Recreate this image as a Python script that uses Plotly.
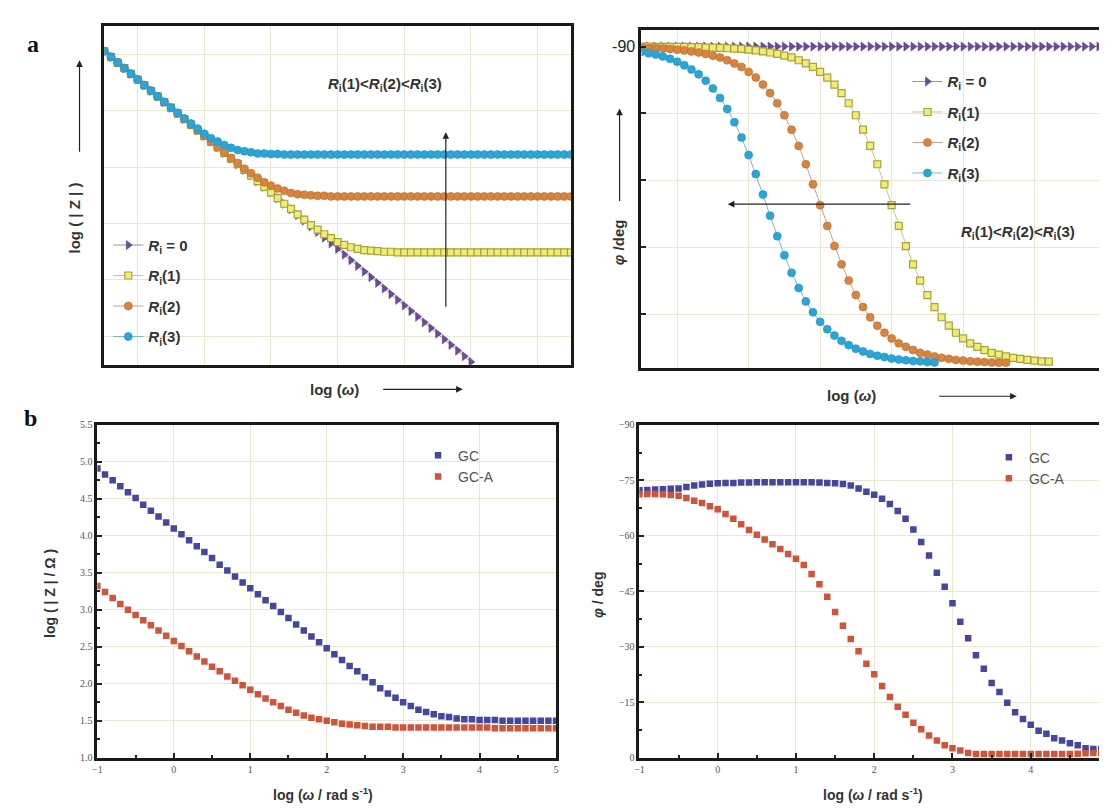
import plotly.graph_objects as go

W, H = 1107, 808

# ---------------- data ----------------
# panel a (schematic): log(w) positions, one point every 0.1 unit
X_SCHEME = [-0.5, -0.4, -0.3, -0.2, -0.1, 0.0, 0.1, 0.2, 0.3, 0.4,
            0.5, 0.6, 0.7, 0.8, 0.9, 1.0, 1.1, 1.2, 1.3, 1.4,
            1.5, 1.6, 1.7, 1.8, 1.9, 2.0, 2.1, 2.2, 2.3, 2.4,
            2.5, 2.6, 2.7, 2.8, 2.9, 3.0, 3.1, 3.2, 3.3, 3.4,
            3.5, 3.6, 3.7, 3.8, 3.9, 4.0, 4.1, 4.2, 4.3, 4.4,
            4.5, 4.6, 4.7, 4.8, 4.9, 5.0, 5.1, 5.2, 5.3, 5.4,
            5.5, 5.6, 5.7, 5.8, 5.9, 6.0, 6.1, 6.2, 6.3, 6.4, 6.5]

# log|Z| (arbitrary units)
MOD_R0 = [5.05, 4.95, 4.85, 4.75, 4.65, 4.55, 4.45, 4.35, 4.25, 4.15,
          4.05, 3.95, 3.85, 3.75, 3.65, 3.55, 3.45, 3.35, 3.25, 3.15,
          3.05, 2.95, 2.85, 2.75, 2.65, 2.55, 2.45, 2.35, 2.25, 2.15,
          2.05, 1.95, 1.85, 1.75, 1.65, 1.55, 1.45, 1.35, 1.25, 1.15,
          1.05, 0.95, 0.85, 0.75, 0.65, 0.55, 0.45, 0.35, 0.25, 0.15,
          0.05, -0.05, -0.15, -0.25, -0.35, -0.45]
MOD_R1 = [5.05, 4.95, 4.85, 4.75, 4.65, 4.55, 4.45, 4.35, 4.25, 4.15,
          4.05, 3.95, 3.85, 3.75, 3.65, 3.55, 3.45, 3.35, 3.25, 3.15,
          3.05, 2.95, 2.85, 2.75, 2.65, 2.55, 2.45, 2.35, 2.26, 2.16,
          2.07, 1.97, 1.89, 1.81, 1.74, 1.67, 1.62, 1.58, 1.55, 1.53,
          1.52, 1.51, 1.50, 1.50, 1.49, 1.49, 1.49, 1.49, 1.49, 1.49,
          1.49, 1.49, 1.49, 1.49, 1.49, 1.49, 1.49, 1.49, 1.49, 1.49,
          1.49, 1.49, 1.49, 1.49, 1.49, 1.49, 1.49, 1.49, 1.49, 1.49, 1.49]
MOD_R2 = [5.05, 4.95, 4.85, 4.75, 4.65, 4.55, 4.45, 4.35, 4.25, 4.15,
          4.05, 3.95, 3.85, 3.75, 3.65, 3.55, 3.45, 3.35, 3.26, 3.16,
          3.07, 2.97, 2.89, 2.81, 2.73, 2.67, 2.62, 2.58, 2.54, 2.52,
          2.51, 2.50, 2.49, 2.49, 2.48, 2.48, 2.48, 2.48, 2.48, 2.48,
          2.48, 2.48, 2.48, 2.48, 2.48, 2.48, 2.48, 2.48, 2.48, 2.48,
          2.48, 2.48, 2.48, 2.48, 2.48, 2.48, 2.48, 2.48, 2.48, 2.48,
          2.48, 2.48, 2.48, 2.48, 2.48, 2.48, 2.48, 2.48, 2.48, 2.48, 2.48]
MOD_R3 = [5.05, 4.95, 4.85, 4.75, 4.65, 4.55, 4.45, 4.35, 4.25, 4.15,
          4.05, 3.96, 3.86, 3.77, 3.68, 3.59, 3.51, 3.45, 3.39, 3.34,
          3.30, 3.28, 3.26, 3.24, 3.24, 3.23, 3.23, 3.22, 3.22, 3.22,
          3.22, 3.22, 3.22, 3.22, 3.22, 3.22, 3.22, 3.22, 3.22, 3.22,
          3.22, 3.22, 3.22, 3.22, 3.22, 3.22, 3.22, 3.22, 3.22, 3.22,
          3.22, 3.22, 3.22, 3.22, 3.22, 3.22, 3.22, 3.22, 3.22, 3.22,
          3.22, 3.22, 3.22, 3.22, 3.22, 3.22, 3.22, 3.22, 3.22, 3.22, 3.22]

# phase (deg)
PH_R0 = [-90.0, -90.0, -90.0, -90.0, -90.0, -90.0, -90.0, -90.0, -90.0, -90.0,
         -90.0, -90.0, -90.0, -90.0, -90.0, -90.0, -90.0, -90.0, -90.0, -90.0,
         -90.0, -90.0, -90.0, -90.0, -90.0, -90.0, -90.0, -90.0, -90.0, -90.0,
         -90.0, -90.0, -90.0, -90.0, -90.0, -90.0, -90.0, -90.0, -90.0, -90.0,
         -90.0, -90.0, -90.0, -90.0, -90.0, -90.0, -90.0, -90.0, -90.0, -90.0,
         -90.0, -90.0, -90.0, -90.0, -90.0, -90.0, -90.0, -90.0, -90.0, -90.0,
         -90.0, -90.0, -90.0, -90.0, -90.0, -90.0]
PH_R1 = [-90.0, -90.0, -89.9, -89.9, -89.9, -89.9, -89.9, -89.8, -89.8, -89.7,
         -89.7, -89.6, -89.5, -89.4, -89.3, -89.1, -88.9, -88.6, -88.3, -87.9,
         -87.4, -86.9, -86.1, -85.2, -84.2, -82.8, -81.2, -79.2, -76.8, -73.9,
         -70.5, -66.4, -61.8, -56.6, -50.9, -45.0, -39.1, -33.4, -28.2, -23.6,
         -19.5, -16.1, -13.2, -10.8, -8.8, -7.2, -5.8, -4.8, -3.9, -3.1,
         -2.6, -2.1, -1.7, -1.4, -1.1, -0.9, -0.7, -0.6]
PH_R2 = [-89.7, -89.6, -89.5, -89.4, -89.3, -89.1, -88.9, -88.6, -88.3, -87.9,
         -87.4, -86.9, -86.1, -85.2, -84.2, -82.8, -81.2, -79.2, -76.8, -73.9,
         -70.5, -66.4, -61.8, -56.6, -50.9, -45.0, -39.1, -33.4, -28.2, -23.6,
         -19.5, -16.1, -13.2, -10.8, -8.8, -7.2, -5.8, -4.8, -3.9, -3.1,
         -2.6, -2.1, -1.7, -1.4, -1.1, -0.9, -0.7, -0.6, -0.5, -0.4,
         -0.3, -0.3]
PH_R3 = [-88.5, -88.1, -87.7, -87.2, -86.5, -85.7, -84.7, -83.5, -82.1, -80.3,
         -78.1, -75.4, -72.3, -68.5, -64.2, -59.2, -53.8, -48.0, -42.0, -36.2,
         -30.8, -25.8, -21.5, -17.7, -14.6, -11.9, -9.8, -8.0, -6.5, -5.3,
         -4.3, -3.5, -2.8, -2.3, -1.9, -1.5, -1.2, -1.0, -0.8, -0.7,
         -0.5, -0.4]

# panel b (measured): log(w / rad s-1)
LOG_W = [-1.0, -0.9, -0.8, -0.7, -0.6, -0.5, -0.4, -0.3, -0.2, -0.1,
         0.0, 0.1, 0.2, 0.3, 0.4, 0.5, 0.6, 0.7, 0.8, 0.9,
         1.0, 1.1, 1.2, 1.3, 1.4, 1.5, 1.6, 1.7, 1.8, 1.9,
         2.0, 2.1, 2.2, 2.3, 2.4, 2.5, 2.6, 2.7, 2.8, 2.9,
         3.0, 3.1, 3.2, 3.3, 3.4, 3.5, 3.6, 3.7, 3.8, 3.9,
         4.0, 4.1, 4.2, 4.3, 4.4, 4.5, 4.6, 4.7, 4.8, 4.9, 5.0]
LOGZ_GC = [4.91, 4.83, 4.75, 4.67, 4.59, 4.51, 4.42, 4.34, 4.26, 4.18,
           4.10, 4.02, 3.94, 3.86, 3.78, 3.70, 3.61, 3.53, 3.45, 3.37,
           3.29, 3.21, 3.13, 3.05, 2.97, 2.89, 2.80, 2.72, 2.64, 2.56,
           2.48, 2.40, 2.32, 2.24, 2.17, 2.09, 2.02, 1.94, 1.87, 1.81,
           1.75, 1.70, 1.65, 1.62, 1.59, 1.56, 1.55, 1.53, 1.52, 1.52,
           1.51, 1.51, 1.51, 1.50, 1.50, 1.50, 1.50, 1.50, 1.50, 1.50, 1.50]
LOGZ_GCA = [3.32, 3.24, 3.16, 3.08, 3.00, 2.93, 2.86, 2.79, 2.72, 2.65,
            2.58, 2.51, 2.44, 2.37, 2.30, 2.23, 2.17, 2.10, 2.04, 1.98,
            1.92, 1.86, 1.80, 1.75, 1.70, 1.65, 1.61, 1.57, 1.54, 1.52,
            1.50, 1.48, 1.46, 1.45, 1.44, 1.43, 1.42, 1.42, 1.42, 1.41,
            1.41, 1.41, 1.41, 1.41, 1.41, 1.41, 1.41, 1.41, 1.41, 1.41,
            1.41, 1.41, 1.40, 1.40, 1.40, 1.40, 1.40, 1.40, 1.40, 1.40, 1.40]
PHASE_GC = [-72.3, -72.4, -72.5, -72.6, -72.7, -72.8, -73.2, -73.6, -73.9, -74.1,
            -74.2, -74.3, -74.3, -74.4, -74.4, -74.5, -74.5, -74.5, -74.5, -74.5,
            -74.5, -74.5, -74.5, -74.4, -74.3, -74.2, -74.0, -73.6, -72.8, -71.9,
            -71.1, -70.0, -68.6, -66.7, -64.6, -61.7, -58.3, -54.7, -50.0, -46.2,
            -41.8, -36.8, -32.3, -27.7, -24.1, -20.2, -17.8, -14.9, -12.3, -10.5,
            -8.9, -7.3, -6.5, -5.3, -4.7, -3.9, -3.4, -2.6, -2.4, -2.4, -2.4]
PHASE_GCA = [-71.2, -71.3, -71.3, -71.2, -71.0, -70.8, -70.2, -69.5, -68.9, -68.0,
             -67.2, -65.9, -64.6, -63.1, -61.6, -60.3, -59.0, -57.7, -56.4, -55.1,
             -53.8, -52.1, -49.7, -46.9, -43.5, -39.4, -35.7, -32.1, -28.8, -25.4,
             -22.6, -19.4, -16.4, -13.8, -11.6, -9.5, -7.7, -6.0, -4.7, -3.4,
             -2.6, -2.0, -1.3, -1.0, -1.0, -1.0, -1.0, -1.0, -1.0, -1.0,
             -1.0, -1.0, -1.0, -1.0, -1.0, -1.0, -1.1, -1.2, -1.3, -1.3, -1.3]

SCHEME_NAMES = ["<b><i>R</i><sub>i</sub> = 0</b>", "<b><i>R</i><sub>i</sub>(1)</b>",
                "<b><i>R</i><sub>i</sub>(2)</b>", "<b><i>R</i><sub>i</sub>(3)</b>"]
RATIO_TEXT = ("<b><i>R</i><sub>i</sub>(1)&lt;<i>R</i><sub>i</sub>(2)"
              "&lt;<i>R</i><sub>i</sub>(3)</b>")

SANS = "Liberation Sans"


def px_x(x):
    return x / W


def px_y(y):
    return 1 - y / H


# marker styles for the four schematic curves
STYLES = [
    dict(symbol="triangle-right", size=8, color="#6d4b96", line=dict(color="#5a3c80", width=0.5)),
    dict(symbol="square", size=7, color="#efec78", line=dict(color="#a9a23a", width=1.2)),
    dict(symbol="circle", size=8, color="#d6843f", line=dict(color="#b96d2f", width=0.6)),
    dict(symbol="circle", size=8, color="#2ba5d6", line=dict(color="#2192c2", width=0.6)),
]
LINE_COLORS = ["#9a8ab2", "#c9c58c", "#c9a283", "#80b4cc"]

fig = go.Figure()

mod_series = [MOD_R0, MOD_R1, MOD_R2, MOD_R3]
for i, ys in enumerate(mod_series):
    fig.add_trace(go.Scatter(x=X_SCHEME[:len(ys)], y=ys, mode="lines+markers",
                             name=SCHEME_NAMES[i], marker=STYLES[i],
                             line=dict(color=LINE_COLORS[i], width=1),
                             xaxis="x", yaxis="y", legend="legend",
                             legendgroup="a%d" % i))

ph_series = [PH_R0, PH_R1, PH_R2, PH_R3]
for i, ys in enumerate(ph_series):
    fig.add_trace(go.Scatter(x=X_SCHEME[:len(ys)], y=ys, mode="lines+markers",
                             name=SCHEME_NAMES[i], marker=STYLES[i],
                             line=dict(color=LINE_COLORS[i], width=1),
                             xaxis="x2", yaxis="y2", legend="legend2",
                             legendgroup="b%d" % i))

GC_COLOR = "#45469f"
GCA_COLOR = "#d1533a"
fig.add_trace(go.Scatter(x=LOG_W, y=LOGZ_GC, mode="markers", name="GC",
                         marker=dict(symbol="square", size=6.5, color=GC_COLOR),
                         xaxis="x3", yaxis="y3", legend="legend3"))
fig.add_trace(go.Scatter(x=LOG_W, y=LOGZ_GCA, mode="markers", name="GC-A",
                         marker=dict(symbol="square", size=6.5, color=GCA_COLOR),
                         xaxis="x3", yaxis="y3", legend="legend3"))
fig.add_trace(go.Scatter(x=LOG_W, y=PHASE_GC, mode="markers", name="GC",
                         marker=dict(symbol="square", size=6.5, color=GC_COLOR),
                         xaxis="x4", yaxis="y4", legend="legend4"))
fig.add_trace(go.Scatter(x=LOG_W, y=PHASE_GCA, mode="markers", name="GC-A",
                         marker=dict(symbol="square", size=6.5, color=GCA_COLOR),
                         xaxis="x4", yaxis="y4", legend="legend4"))

GRID = "#ece6d2"
frame = dict(showline=True, mirror=True, linecolor="#1a1a1a", linewidth=3,
             zeroline=False, showgrid=True, gridcolor=GRID, gridwidth=1)
small_font = dict(family="Liberation Serif", size=10, color="#555")
minor_ticks = dict(ticks="inside", ticklen=3, tickcolor="#222", tickwidth=1.5, showgrid=False)

fig.update_layout(
    width=W, height=H, margin=dict(l=0, r=0, t=0, b=0),
    paper_bgcolor="white", plot_bgcolor="white",
    xaxis=dict(frame, domain=[px_x(92), px_x(562)], range=[-0.5, 6.5], dtick=1, tick0=0,
               showticklabels=False, anchor="y"),
    yaxis=dict(frame, domain=[px_y(356), px_y(12)], range=[-0.5, 5.5], dtick=1, tick0=0,
               showticklabels=False, anchor="x"),
    xaxis2=dict(frame, domain=[px_x(633), px_x(1101)], range=[-0.5, 6.0], dtick=1, tick0=0,
                showticklabels=False, anchor="y2"),
    yaxis2=dict(frame, domain=[px_y(359), px_y(16)], range=[1.1, -94.75],
                tickvals=[-90, -71, -52, -33, -14], ticktext=["-90", "", "", "", ""],
                ticks="inside", ticklen=5, tickwidth=1.5, tickcolor="#222",
                tickfont=dict(family=SANS, size=16, color="#222"), anchor="x2"),
    xaxis3=dict(frame, domain=[px_x(85), px_x(547)], range=[-1, 5], dtick=1, tick0=0,
                ticks="inside", ticklen=5, tickwidth=2, tickcolor="#222",
                minor=dict(minor_ticks, dtick=0.5), tickfont=small_font, anchor="y3"),
    yaxis3=dict(frame, domain=[px_y(755), px_y(417)], range=[1.0, 5.5], dtick=0.5, tick0=0,
                ticks="inside", ticklen=5, tickwidth=2, tickcolor="#222", tickformat=".1f",
                minor=dict(minor_ticks, dtick=0.25), tickfont=small_font, anchor="x3"),
    xaxis4=dict(frame, domain=[px_x(631), px_x(1104)], range=[-1, 5], dtick=1, tick0=0,
                ticks="inside", ticklen=5, tickwidth=2, tickcolor="#222",
                minor=dict(minor_ticks, dtick=0.5), tickfont=small_font, anchor="y4"),
    yaxis4=dict(frame, domain=[px_y(755), px_y(417)], range=[0, -90], dtick=15, tick0=0,
                ticks="inside", ticklen=5, tickwidth=2, tickcolor="#222",
                minor=dict(minor_ticks, dtick=7.5), tickfont=small_font, anchor="x4"),
)

legend_base = dict(xanchor="left", yanchor="top", bgcolor="rgba(0,0,0,0)",
                   traceorder="grouped", tracegroupgap=8,
                   font=dict(family=SANS, size=15, color="#333"))
fig.update_layout(
    legend=dict(legend_base, x=px_x(96), y=px_y(218)),
    legend2=dict(legend_base, x=px_x(901), y=px_y(52)),
    legend3=dict(xanchor="left", yanchor="top", bgcolor="rgba(0,0,0,0)",
                 x=px_x(408), y=px_y(432), font=dict(family=SANS, size=14, color="#555")),
    legend4=dict(xanchor="left", yanchor="top", bgcolor="rgba(0,0,0,0)",
                 x=px_x(983), y=px_y(434), font=dict(family=SANS, size=14, color="#555")),
)


def text(x, y, s, size=15, angle=0, family=SANS, color="#333"):
    return dict(x=px_x(x), y=px_y(y), xref="paper", yref="paper", text=s,
                showarrow=False, textangle=angle, xanchor="center", yanchor="middle",
                font=dict(family=family, size=size, color=color))


def arrow(x0, y0, x1, y1):
    # tail (x0, y0) -> head (x1, y1), page pixels
    return dict(x=px_x(x1), y=px_y(y1), xref="paper", yref="paper",
                ax=x0 - x1, ay=y0 - y1, axref="pixel", ayref="pixel", text="",
                showarrow=True, arrowhead=2, arrowsize=1.1, arrowwidth=1.2,
                arrowcolor="#222", standoff=0, startstandoff=0)


annotations = [
    text(20, 30, "<b>a</b>", size=24, family="Liberation Serif", color="#111"),
    text(18, 410, "<b>b</b>", size=24, family="Liberation Serif", color="#111"),
    # panel a, left
    text(62, 207, "<b>log ( | Z | )</b>", angle=-90),
    arrow(67, 140, 67, 47),
    text(324, 381, "<b>log (<i>ω</i>)</b>"),
    arrow(372, 381, 453, 381),
    text(375, 72, RATIO_TEXT, size=15),
    arrow(436, 296, 436, 120),
    # panel a, right
    text(610, 232, "<b><i>φ</i> /deg</b>", angle=-90),
    arrow(611, 190, 611, 96),
    text(845, 387, "<b>log (<i>ω</i>)</b>"),
    arrow(932, 388, 1011, 388),
    text(1012, 222, RATIO_TEXT, size=15),
    arrow(904, 193, 720, 193),
    # panel b
    text(38, 588, "<b>log ( | Z | / Ω )</b>", size=14, angle=-90),
    text(312, 792, "<b>log (<i>ω</i> / rad s<sup>-1</sup>)</b>", size=14),
    text(590, 590, "<b><i>φ</i> / deg</b>", size=14, angle=-90),
    text(866, 792, "<b>log (<i>ω</i> / rad s<sup>-1</sup>)</b>", size=14),
]
fig.update_layout(annotations=annotations)

fig.write_html("out.html")
